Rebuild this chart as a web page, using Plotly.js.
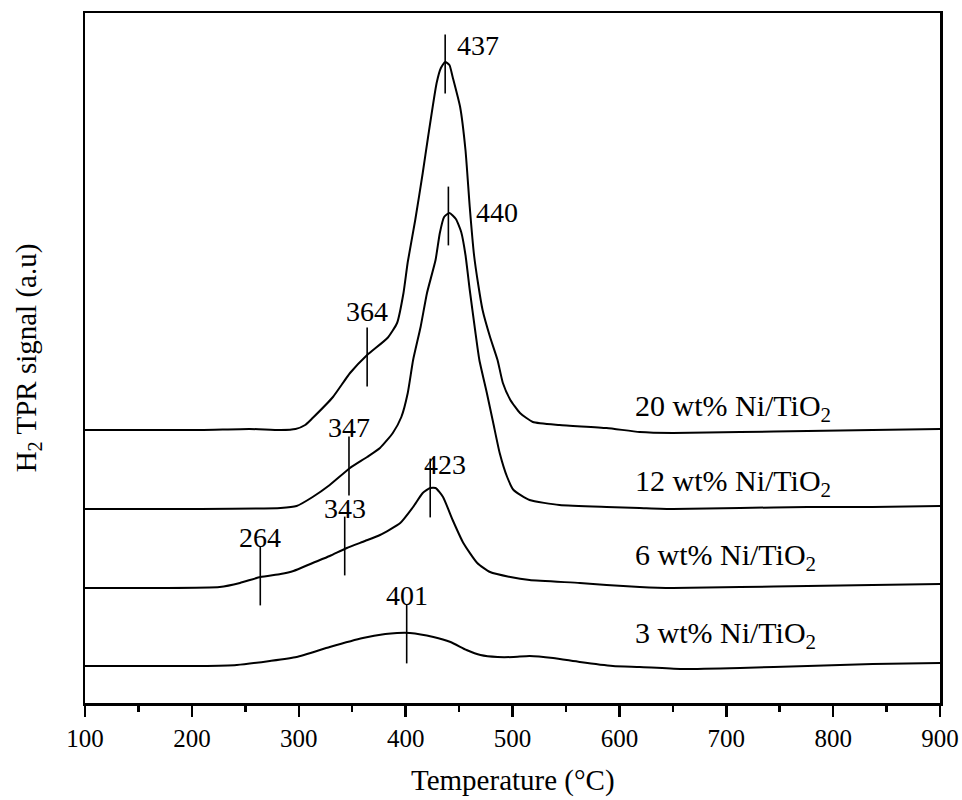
<!DOCTYPE html>
<html>
<head>
<meta charset="utf-8">
<script src="https://cdn.plot.ly/plotly-3.0.1.min.js"></script>
<style>html,body{margin:0;padding:0;background:#fff;}#chart{width:962px;height:800px;}</style>
</head>
<body>
<div id="chart"></div>
<script>
// Temperature (°C) and H2 TPR signal (a.u., arbitrary offset units)
const t20 = [100,208,254,283,297,306,313,332,348,364,383,392,398,402,409,416,421,429,433,437,441,444,451,456,460,464,468,472,479,486,491,498,507,519,544,588,619,650,713,776,837,900];
const s20 = [273,273,274,273,274,278,285,306,330,348,365,380,410,441,483,530,566,620,635,641,638,626,596,553,496,448,418,393,366,343,320,303,290,281,278,275,271,270,271,272,273,274];

const t12 = [100,208,283,298,313,329,348,364,376,388,396,402,407,414,420,428,432,436,441,447,452,456,460,465,469,476,482,488,495,501,516,544,588,619,650,713,776,837,900];
const s12 = [194,194,195,197,206,218,235,246,255,270,286,310,343,376,410,443,470,486,490,484,471,448,413,373,343,310,280,250,226,213,203,198,196,195,194,195,196,196,197];

const t6 = [100,170,226,245,264,283,295,313,329,345,362,376,395,407,416,423,428,435,444,454,467,479,498,516,563,588,619,650,713,776,837,900];
const s6 = [115,115,116,120,126,129,132,140,147,155,162,168,180,196,210,215,215,206,183,160,140,131,126,123,120,118,116,115,116,117,118,119];

const t3 = [100,208,242,273,298,329,360,381,392,404,426,442,457,470,486,501,516,538,563,594,619,657,713,776,837,900];
const s3 = [37,37,38,42,46,56,65,69,70,70,66,61,53,48,46,46,47,45,41,37,36,34,35,37,39,40];

// Peak markers
const peakT = [437, 440, 364, 347, 343, 423, 264, 401];
const peakS = [639, 487, 346, 237, 157, 215, 127, 69];
const peakLabels = ['437', '440', '364', '347', '343', '423', '264', '401'];

// Sample labels
const sampleNames = ['20 wt% Ni/TiO<sub>2</sub>', '12 wt% Ni/TiO<sub>2</sub>', '6 wt% Ni/TiO<sub>2</sub>', '3 wt% Ni/TiO<sub>2</sub>'];
const sampleLabelS = [295, 220, 146, 68];
const sampleLabelT = 613;

const xTitle = 'Temperature (°C)';
const yTitle = 'H<sub>2</sub> TPR signal (a.u)';

const FONT = 'Liberation Serif, Times New Roman, serif';
const lineStyle = {color: '#000', width: 2, shape: 'spline', smoothing: 0.5};

const traces = [
  {x: t20, y: s20, mode: 'lines', line: lineStyle, hoverinfo: 'skip'},
  {x: t12, y: s12, mode: 'lines', line: lineStyle, hoverinfo: 'skip'},
  {x: t6, y: s6, mode: 'lines', line: lineStyle, hoverinfo: 'skip'},
  {x: t3, y: s3, mode: 'lines', line: lineStyle, hoverinfo: 'skip'},
  {x: peakT, y: peakS, mode: 'markers', hoverinfo: 'skip',
   marker: {symbol: 'line-ns', size: 42, color: '#000', line: {color: '#000', width: 1.6}}}
];

// label offsets (style): [xanchor, xshift, yshift]
const labelStyle = [
  ['left', 10, 19], ['left', 26, 4], ['center', 0, 46], ['center', 0, 39],
  ['center', 0, 38], ['center', 15, 24], ['center', 0, 39], ['center', 0, 39]
];

const annotations = [];
peakT.forEach((t, i) => {
  annotations.push({x: t, y: peakS[i], xref: 'x', yref: 'y', text: peakLabels[i], showarrow: false,
    xanchor: labelStyle[i][0], yanchor: 'middle', xshift: labelStyle[i][1], yshift: labelStyle[i][2],
    font: {family: FONT, size: 28, color: '#000'}});
});
sampleNames.forEach((n, i) => {
  annotations.push({x: sampleLabelT, y: sampleLabelS[i], xref: 'x', yref: 'y', text: n, showarrow: false,
    xanchor: 'left', yanchor: 'middle', font: {family: FONT, size: 30, color: '#000'}});
});
annotations.push({x: 0.5, y: -0.112, xref: 'paper', yref: 'paper', text: xTitle, showarrow: false,
  xanchor: 'center', yanchor: 'middle', font: {family: FONT, size: 29, color: '#000'}});

const layout = {
  width: 962, height: 800,
  margin: {l: 85, r: 22, t: 13, b: 97},
  paper_bgcolor: '#fff', plot_bgcolor: '#fff',
  showlegend: false,
  font: {family: FONT, color: '#000'},
  xaxis: {
    range: [100, 900], dtick: 100, tick0: 100,
    showgrid: false, zeroline: false,
    showline: true, linecolor: '#000', linewidth: 2.5, mirror: true,
    ticks: 'outside', ticklen: 11, tickwidth: 2.5, tickcolor: '#000',
    minor: {dtick: 50, ticks: 'outside', ticklen: 6, tickwidth: 2.5, tickcolor: '#000', showgrid: false},
    tickfont: {family: FONT, size: 25, color: '#000'}
  },
  yaxis: {
    range: [0, 690],
    showgrid: false, zeroline: false, showticklabels: false, ticks: '',
    showline: true, linecolor: '#000', linewidth: 2.5, mirror: true,
    title: {text: yTitle, font: {family: FONT, size: 29, color: '#000'}, standoff: 38}
  },
  annotations: annotations
};

Plotly.newPlot('chart', traces, layout, {staticPlot: true, displayModeBar: false});
</script>
</body>
</html>
